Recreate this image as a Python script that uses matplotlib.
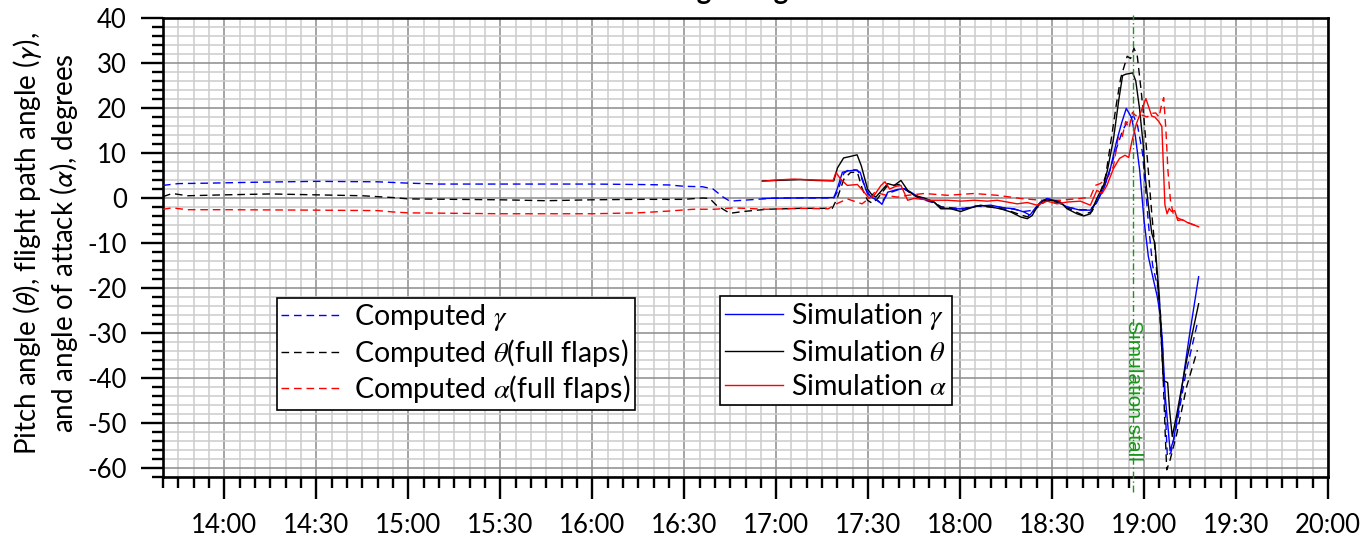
import matplotlib
matplotlib.use("Agg")
import matplotlib.pyplot as plt
from matplotlib.ticker import MultipleLocator, FuncFormatter
from matplotlib.font_manager import FontProperties

plt.rcParams['font.family'] = ['Lato', 'DejaVu Sans']
plt.rcParams['axes.unicode_minus'] = False


def to_min(s):
    h, m = s.split(':')
    return int(h) * 60 + float(m)


# ---- computed values (dashed) ----
comp_gamma_t = ["13:40", "13:45", "13:55", "14:10", "14:30", "14:50", "15:00", "15:10", "15:30",
                "16:00", "16:15", "16:25", "16:30", "16:36", "16:39.4", "16:42.7", "16:44.9",
                "16:49.3", "16:53.6", "17:00", "17:18.8", "17:19.9", "17:22.1", "17:23.8",
                "17:26.5", "17:27.6", "17:29.8", "17:32", "17:34.2", "17:36.4", "17:39.6",
                "17:41.8", "17:43.9", "17:47.2", "17:51", "17:53.7", "17:58", "18:01.3",
                "18:05.6", "18:10", "18:14.3", "18:17.6", "18:20.8", "18:24", "18:26.2",
                "18:28.4", "18:31.6", "18:34.9", "18:39.2", "18:42.5", "18:44.6", "18:46.8",
                "18:49", "18:51", "18:53", "18:55", "18:56.6", "18:57.9", "18:59.5", "19:00.5",
                "19:01.6", "19:02.8", "19:04.5", "19:05.4", "19:06", "19:06.6", "19:07.6",
                "19:08.8", "19:10.5", "19:13.6", "19:17.5"]
comp_gamma_v = [2.8, 3.2, 3.3, 3.5, 3.7, 3.6, 3.3, 3.1, 3.1,
                3.1, 3.0, 2.9, 2.6, 2.5, 2.0, 0.2, -0.7,
                -0.5, -0.3, 0.0, 0.0, 1.3, 5.5, 6.3,
                6.2, 4.9, 0.9, -0.1, -1.2, 1.0, 1.8,
                2.0, 1.1, -0.2, -1.0, -2.0, -2.2, -2.3,
                -1.8, -1.7, -2.2, -2.5, -3.0, -2.7, -1.0,
                -0.2, -0.7, -2.0, -2.6, -2.6, -0.8, 2.0,
                6.5, 11.0, 15.0, 17.5, 18.2, 16.0, 10.0, 2.0,
                -7.0, -15.0, -20.0, -26.0, -33.0, -42.0, -57.5,
                -56.5, -51.0, -39.0, -27.5]

comp_theta_t = ["13:40", "13:43", "13:48", "14:00", "14:15", "14:30", "14:45", "14:55", "15:00",
                "15:15", "15:30", "15:45", "16:00", "16:15", "16:30", "16:36", "16:38.3",
                "16:40.5", "16:44.9", "16:49.3", "16:57", "17:07.9", "17:18.3", "17:19.9",
                "17:22.1", "17:24.3", "17:26.5", "17:28.1", "17:29.8", "17:31.4", "17:33.1",
                "17:36", "17:40", "17:43", "17:46", "17:50", "17:54", "18:00", "18:05",
                "18:10", "18:15", "18:20", "18:22", "18:25", "18:28", "18:32", "18:35",
                "18:40", "18:43", "18:45", "18:46.4", "18:47.5", "18:49.5", "18:51",
                "18:52.4", "18:54.5", "18:55.6", "18:56.7", "18:57.8", "18:58.9", "19:00",
                "19:01.1", "19:02.5", "19:03.6", "19:05.2", "19:06.1", "19:06.9", "19:07.4",
                "19:08.5", "19:10.7", "19:13.9", "19:17.4"]
comp_theta_v = [0.3, 1.0, 0.5, 0.7, 0.9, 0.7, 0.5, 0.1, -0.2,
                -0.3, -0.4, -0.6, -0.4, -0.3, -0.3, 0.0, -0.1,
                -1.6, -3.4, -3.0, -2.5, -2.3, -2.3, -0.1,
                4.2, 5.7, 5.7, 2.0, -0.5, -1.2, -0.1,
                2.5, 3.0, 1.5, 0.2, -0.5, -2.0, -2.6, -1.8,
                -2.0, -2.6, -3.8, -4.2, -2.2, -0.6, -1.0, -2.2,
                -3.8, -3.0, -0.3, 2.6, 5.0, 14.0, 21.0,
                26.7, 31.5, 31.0, 33.3, 31.5, 24.8, 17.4,
                8.5, -3.3, -11.6, -26.4, -37.5, -52.3, -60.4,
                -58.2, -52.3, -41.9, -33.8]

comp_alpha_t = ["13:40", "13:43", "13:48", "14:00", "14:30", "14:50", "14:55", "15:00", "15:30",
                "16:00", "16:15", "16:25", "16:33", "16:40", "16:46", "16:57", "17:07.9",
                "17:17", "17:19.7", "17:23.2", "17:28", "17:30.1", "17:32.2", "17:36.4",
                "17:39.6", "17:42.9", "17:48.3", "17:55.9", "18:04.6", "18:12.1", "18:19.7",
                "18:26.2", "18:32.7", "18:39.2", "18:42.5", "18:44.1", "18:45.7", "18:47.9",
                "18:50", "18:51.7", "18:52.9", "18:54", "18:55.1", "18:56.2", "18:57.3",
                "18:59", "19:01", "19:02.4", "19:03.8", "19:04.9", "19:05.7", "19:06.4",
                "19:07.1", "19:07.8", "19:08.6", "19:09.6", "19:10.9", "19:12.5", "19:14",
                "19:17.6"]
comp_alpha_v = [-2.5, -2.2, -2.6, -2.6, -2.7, -2.8, -3.1, -3.3, -3.5,
                -3.5, -3.3, -2.9, -2.5, -2.5, -2.2, -2.5, -2.3,
                -2.4, -1.3, -0.2, -1.3, -0.2, 1.3, 0.5,
                0.2, 0.6, 1.0, 0.6, 1.0, 0.6, -0.1,
                -0.5, -0.5, -0.1, 0.2, 2.8, 3.2, 4.3,
                7.0, 14.0, 13.7, 17.0, 15.5, 19.0, 18.3,
                18.5, 18.0, 18.8, 18.9, 18.0, 20.7, 22.3,
                15.5, 6.0, -0.5, -3.8, -4.4, -4.9, -5.4,
                -6.3]

# ---- simulation values (solid) ----
sim_gamma_t = ["16:55.5", "17:05", "17:18.8", "17:19.9", "17:21.6", "17:23.2", "17:26", "17:27.4",
               "17:29.2", "17:30.9", "17:33.1", "17:34.5", "17:36.4", "17:39.6", "17:41.8",
               "17:43.9", "17:47.2", "17:51.5", "17:53.7", "17:58", "18:01.3", "18:05.6",
               "18:10", "18:14.3", "18:17.6", "18:20.8", "18:22.8", "18:24", "18:26.2",
               "18:28.4", "18:31.6", "18:34.9", "18:39.2", "18:42.5", "18:44.6", "18:46.8",
               "18:49", "18:51", "18:52.7", "18:54.2", "18:55.9", "18:57.2", "18:58.6",
               "19:00", "19:01.4", "19:03", "19:04.3", "19:05.3", "19:06", "19:06.9",
               "19:08.5", "19:09.6", "19:11.5", "19:14.7", "19:17.8"]
sim_gamma_v = [-0.1, 0.0, 0.1, 2.0, 5.7, 6.0, 6.2, 5.7,
               2.0, 0.2, -0.5, -1.4, 1.3, 1.9, 2.1,
               1.3, -0.1, -0.9, -2.2, -2.4, -2.4, -1.8,
               -1.6, -2.2, -2.4, -3.1, -3.8, -2.7, -0.9,
               -0.1, -0.7, -2.0, -2.7, -2.7, -0.9, 2.1,
               6.5, 12.5, 16.7, 19.9, 17.9, 13.6, 6.0,
               -5.0, -13.0, -18.0, -21.9, -26.0, -32.0, -44.0,
               -56.2, -53.8, -46.0, -31.0, -17.5]

sim_theta_t = ["16:55.5", "17:00", "17:08", "17:13", "17:18.8", "17:20", "17:22", "17:24",
               "17:26.4", "17:27.8", "17:29.8", "17:31", "17:32.5", "17:34.2", "17:36.4",
               "17:38.5", "17:40.7", "17:42.9", "17:45", "17:48.3", "17:51.5", "17:53.7",
               "17:57", "18:00.2", "18:03.5", "18:06.7", "18:10", "18:13.2", "18:16.5",
               "18:19.7", "18:21.9", "18:23.5", "18:25.1", "18:27.3", "18:29.5", "18:32.7",
               "18:34.9", "18:38.1", "18:40.3", "18:42.5", "18:44.6", "18:46.8", "18:48",
               "18:50", "18:51.8", "18:53", "18:54", "18:56.3", "18:57.3", "18:58.5",
               "18:59.7", "19:00.5", "19:01.4", "19:02.5", "19:03.5", "19:04.2", "19:05",
               "19:05.8", "19:06.3", "19:07.7", "19:08.3", "19:09.2", "19:10.7", "19:13.9",
               "19:17.8"]
sim_theta_v = [3.8, 3.9, 4.1, 3.9, 3.8, 6.7, 8.9, 9.2,
               9.6, 7.1, 2.0, 0.9, 0.2, 1.5, 3.2,
               2.8, 3.9, 1.7, 0.6, 0.0, -0.9, -2.4,
               -2.4, -3.0, -2.2, -1.6, -2.0, -2.4, -3.1,
               -4.2, -4.6, -3.9, -2.0, -0.5, -0.5, -0.9,
               -2.4, -3.5, -4.0, -3.5, -0.1, 2.8, 6.0,
               13.0, 22.0, 27.2, 27.5, 27.8, 26.0, 20.0,
               12.0, 4.0, -1.5, -7.8, -10.0, -15.5, -22.0,
               -33.8, -40.6, -41.0, -47.0, -53.0, -48.0, -36.0,
               -23.5]

sim_alpha_t = ["16:55.5", "17:00", "17:05.8", "17:12", "17:18.6", "17:19.5", "17:21", "17:23.2",
               "17:26.5", "17:28.7", "17:30.3", "17:32", "17:34.2", "17:35.5", "17:37",
               "17:39.1", "17:40.7", "17:42.9", "17:45", "17:50.5", "17:55.9", "18:00.2",
               "18:04.6", "18:08.9", "18:12.1", "18:15.4", "18:18.6", "18:21.9", "18:25.1",
               "18:28.4", "18:31.6", "18:34.9", "18:39.2", "18:42.5", "18:44.6", "18:46.3",
               "18:47.9", "18:50", "18:52", "18:53.8", "18:55", "18:56", "18:57.5",
               "18:58.5", "19:00.6", "19:02.5", "19:03.5", "19:04.8", "19:05.8", "19:06.8",
               "19:07.5", "19:08.2", "19:09", "19:10", "19:11", "19:12.5", "19:14",
               "19:17.8"]
sim_alpha_v = [3.7, 4.0, 4.2, 4.0, 3.9, 5.7, 4.2, 2.8,
               3.0, 1.3, -0.1, 0.6, 2.8, 3.6, 2.0,
               2.6, 2.8, -0.5, -0.1, -0.5, -0.5, -0.7,
               -0.5, -0.7, -0.5, -0.9, -1.3, -1.0, -1.6,
               -0.7, -1.3, -0.9, -0.7, -1.6, 1.7, 1.0,
               2.8, 6.5, 8.8, 9.5, 9.0, 12.5, 16.5,
               18.3, 22.1, 18.2, 18.0, 17.0, 15.9, -1.5,
               -3.5, -2.3, -3.0, -2.8, -5.0, -4.8, -5.4,
               -6.4]

stall_time = "18:56.5"

x_limits = ["13:40", "20:00"]
y_limits = [-62, 40]

dash = (0, (5.5, 3.5))

fig = plt.figure(figsize=(13.68, 5.40), dpi=100)
ax = fig.add_axes([163 / 1368, 63 / 540, 1165 / 1368, 459 / 540])

ax.set_xlim(to_min(x_limits[0]), to_min(x_limits[1]))
ax.set_ylim(*y_limits)

ax.xaxis.set_major_locator(MultipleLocator(30))
ax.xaxis.set_minor_locator(MultipleLocator(5))
ax.yaxis.set_major_locator(MultipleLocator(10))
ax.yaxis.set_minor_locator(MultipleLocator(2))
ax.xaxis.set_major_formatter(FuncFormatter(lambda v, p: f"{int(v // 60)}:{int(round(v % 60)):02d}"))
ax.yaxis.set_major_formatter(FuncFormatter(lambda v, p: f"{int(round(v))}"))

ax.grid(which='major', color='#8c8c8c', lw=1.1, zorder=0)
ax.grid(which='minor', color='#cccccc', lw=1.1, zorder=0)
ax.set_axisbelow(True)

ax.tick_params(which='major', direction='out', length=16, width=1.7, labelsize=18.5, pad=10, color='black')
ax.tick_params(which='minor', direction='out', length=8, width=1.7, color='black')
for s in ax.spines.values():
    s.set_linewidth(1.9)
    s.set_color('black')


def tm(lst):
    return [to_min(s) for s in lst]


h1, = ax.plot(tm(comp_gamma_t), comp_gamma_v, color='#0000ff', lw=1.0, ls=dash, label=r'Computed $\gamma$', zorder=3)
h2, = ax.plot(tm(comp_theta_t), comp_theta_v, color='black', lw=1.0, ls=dash, label=r'Computed $\theta$(full flaps)', zorder=3)
h3, = ax.plot(tm(comp_alpha_t), comp_alpha_v, color='#ff0000', lw=1.0, ls=dash, label=r'Computed $\alpha$(full flaps)', zorder=3)
s1, = ax.plot(tm(sim_gamma_t), sim_gamma_v, color='#0000ff', lw=1.0, label=r'Simulation $\gamma$', zorder=4)
s2, = ax.plot(tm(sim_theta_t), sim_theta_v, color='black', lw=1.0, label=r'Simulation $\theta$', zorder=4)
s3, = ax.plot(tm(sim_alpha_t), sim_alpha_v, color='#ff0000', lw=1.0, label=r'Simulation $\alpha$', zorder=4)

ts = to_min(stall_time)
ax.plot([ts, ts], [-65.3, 40.7], color='#1a961a', lw=1.0, ls=(0, (5, 2, 1, 2)), clip_on=False, zorder=5)
ax.text(ts, -42.7, 'Simulation stall', rotation=-90, color='#1a961a', fontsize=15,
        family=['Liberation Sans', 'DejaVu Sans'], ha='center', va='center', zorder=6)

leg_font = FontProperties(family=['Lato', 'DejaVu Sans'], size=20.5, math_fontfamily='stix')
leg1 = fig.legend(handles=[h1, h2, h3], loc='upper left', bbox_to_anchor=(277 / 1368, 1 - 298 / 540),
                  prop=leg_font, frameon=True, fancybox=False, shadow=False, borderaxespad=0,
                  handlelength=2.15, handletextpad=0.42, borderpad=0.15, labelspacing=0.14)
leg2 = fig.legend(handles=[s1, s2, s3], loc='upper left', bbox_to_anchor=(720 / 1368, 1 - 296 / 540),
                  prop=leg_font, frameon=True, fancybox=False, shadow=False, borderaxespad=0,
                  handlelength=2.05, handletextpad=0.25, borderpad=0.18, labelspacing=0.28)
for lg in (leg1, leg2):
    fr = lg.get_frame()
    fr.set_edgecolor('black')
    fr.set_linewidth(1.2)
    fr.set_alpha(1)

fig.text(46 / 1368, 1 - 243 / 540,
         "Pitch angle ($\\theta$), flight path angle ($\\gamma$),\nand angle of attack ($\\alpha$), degrees",
         rotation=90, ha='center', va='center', fontsize=20, multialignment='center',
         math_fontfamily='stixsans', linespacing=1.15)

fig.text(745 / 1368, 1 + 1 / 540, 'Flight angles', ha='center', va='baseline',
         fontsize=20, weight='bold')

fig.savefig('out.png', dpi=100)
